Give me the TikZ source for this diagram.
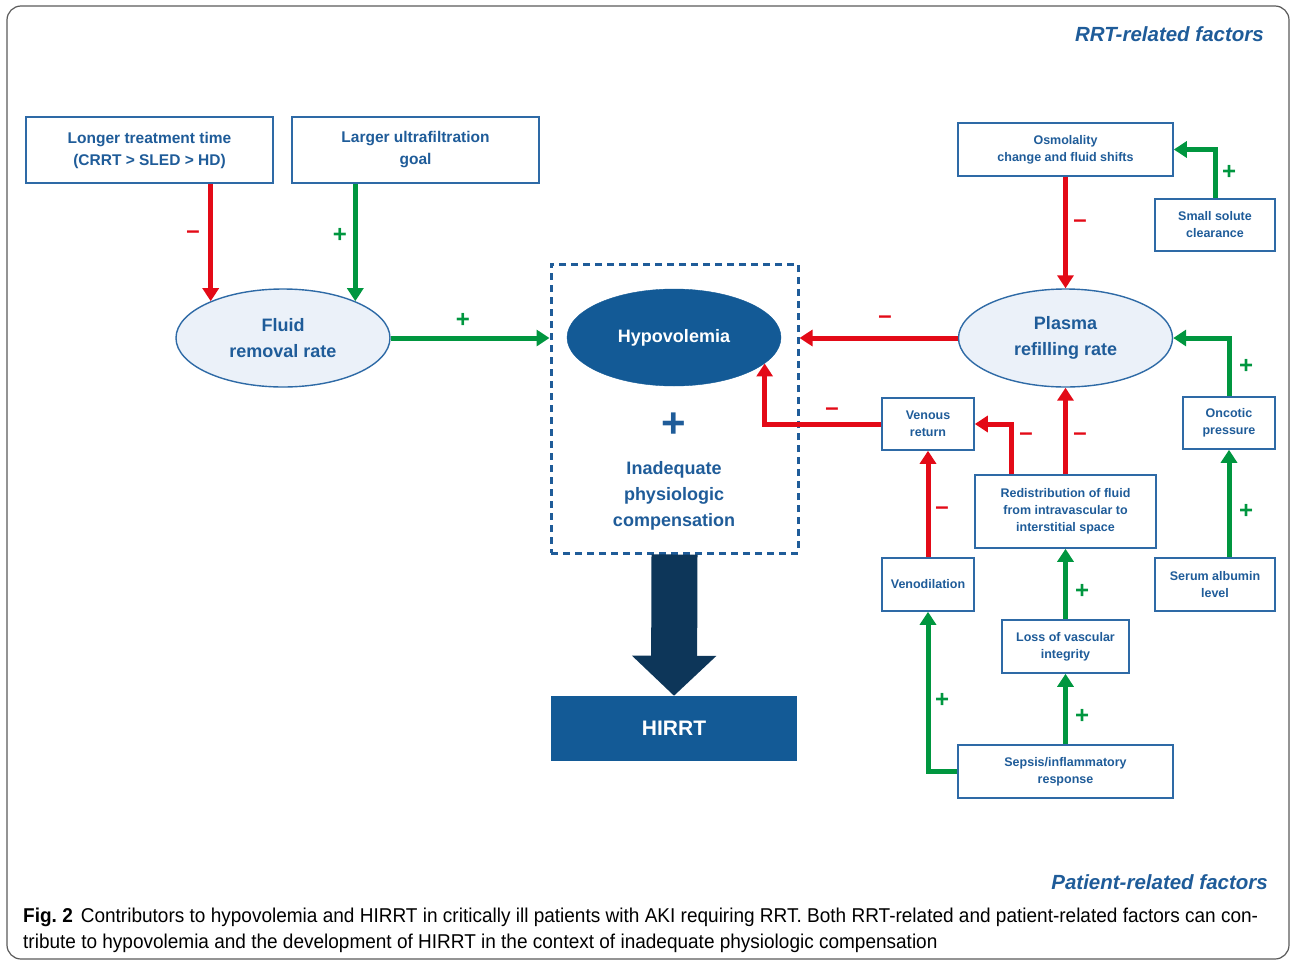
\documentclass[tikz,border=0pt]{standalone}
\usepackage{fontspec}
\setmainfont{Liberation Sans}
\newfontfamily\capfont[FakeStretch=0.95]{Liberation Sans}
\usetikzlibrary{arrows.meta,shapes.geometric,calc}
\definecolor{tblue}{HTML}{1F5C99}
\definecolor{bbox}{HTML}{2E6AA6}
\definecolor{efill}{HTML}{EBF1F9}
\definecolor{hfill}{HTML}{135A96}
\definecolor{navy}{HTML}{0D3659}
\definecolor{cred}{HTML}{E30A17}
\definecolor{cgreen}{HTML}{00963F}
\definecolor{frame}{HTML}{5A5A5A}
\tikzset{
  box/.style={draw=bbox, line width=1.6pt, fill=white, text=tblue, align=center, inner sep=0pt},
  bigtxt/.style={font=\bfseries\fontsize{15.5}{22}\selectfont},
  smalltxt/.style={font=\bfseries\fontsize{12.5}{17}\selectfont},
  ell/.style={ellipse, draw=bbox, fill=efill, line width=1.4pt, inner sep=0pt, text=tblue, align=center,
    minimum width=214pt, minimum height=98pt, font=\bfseries\fontsize{18}{26}\selectfont},
  garrow/.style={draw=cgreen, line width=5pt, -{Triangle[width=16pt,length=13pt]}},
  rarrow/.style={draw=cred, line width=5pt, -{Triangle[width=16pt,length=13pt]}},
  plab/.style={text=cgreen, inner sep=0pt, font=\bfseries\fontsize{24}{24}\selectfont},
  mlab/.style={text=cred, inner sep=0pt, font=\bfseries\fontsize{24}{24}\selectfont},
}
\begin{document}
\begin{tikzpicture}[x=1pt,y=-1pt]
\useasboundingbox (0,0) rectangle (1290,961);
\draw[frame, line width=1.2pt, rounded corners=14pt] (7,6) rectangle (1289,959);

% titles
\node[anchor=base east, inner sep=0pt, text=tblue, font=\bfseries\itshape\fontsize{20.5}{20.5}\selectfont] (ttl1) at (1264,41) {RRT-related factors};
\node[anchor=base east, inner sep=0pt, text=tblue, font=\bfseries\itshape\fontsize{20.5}{20.5}\selectfont] (ttl2) at (1268,889) {Patient-related factors};

% left boxes
\node[box, bigtxt, minimum width=247pt, minimum height=66pt] (longer) at (149.5,150) {Longer treatment time\\(CRRT > SLED > HD)};
\node[box, bigtxt, minimum width=247pt, minimum height=66pt] (larger) at (415.5,150) {Larger ultrafiltration\\goal};
\node[ell] (fluid) at (283,338) {Fluid\\removal rate};

% central compensation box
\node[draw=tblue, dashed, dash pattern=on 7pt off 5pt, line width=3pt, minimum width=247pt, minimum height=289pt, inner sep=0pt] (comp) at (674.5,408.5) {};
\node[ellipse, fill=hfill, draw=hfill, minimum width=214pt, minimum height=97pt, inner sep=0pt, text=white, font=\bfseries\fontsize{18}{18}\selectfont] (hypo) at (674,337.5) {\raisebox{-1.5pt}{Hypovolemia}};
\node[text=tblue, inner sep=0pt, font=\bfseries\fontsize{42}{42}\selectfont] (plus) at (674,425) {+};
\node[text=tblue, inner sep=0pt, align=center, font=\bfseries\fontsize{18}{26}\selectfont] (inad) at (674,496) {Inadequate\\physiologic\\compensation};
\node[fill=hfill, minimum width=246pt, minimum height=65pt, inner sep=0pt, text=white, font=\bfseries\fontsize{21}{21}\selectfont] (hirrt) at (674,728.5) {HIRRT};

% right side
\node[box, smalltxt, minimum width=215pt, minimum height=53pt] (osmo) at (1065.5,149.5) {Osmolality\\change and fluid shifts};
\node[box, smalltxt, minimum width=120pt, minimum height=52pt] (small) at (1215,225) {Small solute\\clearance};
\node[ell] (plasma) at (1065.5,338) {Plasma\\refilling rate};
\node[box, smalltxt, minimum width=92pt, minimum height=52pt] (venous) at (928,424) {Venous\\return};
\node[box, smalltxt, minimum width=92pt, minimum height=52pt] (oncotic) at (1229,423) {Oncotic\\pressure};
\node[box, smalltxt, minimum width=181pt, minimum height=73pt] (redis) at (1065.5,511.5) {Redistribution of fluid\\from intravascular to\\interstitial space};
\node[box, smalltxt, minimum width=92pt, minimum height=53pt] (venod) at (928,584.5) {Venodilation};
\node[box, smalltxt, minimum width=120pt, minimum height=53pt] (serum) at (1215,584.5) {Serum albumin\\level};
\node[box, smalltxt, minimum width=127pt, minimum height=53pt] (loss) at (1065.5,646.5) {Loss of vascular\\integrity};
\node[box, smalltxt, minimum width=215pt, minimum height=53pt] (sepsis) at (1065.5,771.5) {Sepsis/inflammatory\\response};

% big arrow
\draw[navy, line width=46pt, -{Triangle[width=82pt,length=40pt]}] (comp.south) -- (hirrt.north);

% connectors
\draw[rarrow] (fluid.153 |- longer.south) -- (fluid.153);
\draw[garrow] (fluid.27 |- larger.south) -- (fluid.27);
\draw[garrow] (fluid.east) -- (fluid.east -| comp.west);
\draw[rarrow] (plasma.west) -- (plasma.west -| comp.east);
\draw[rarrow] (osmo.south) -- (plasma.north);
\draw[garrow] (small.north) |- (osmo.east);
\draw[garrow] (oncotic.north) |- (plasma.east);
\draw[garrow] (oncotic.south |- serum.north) -- (oncotic.south);
\draw[rarrow] (redis.north) -- (plasma.south);
\coordinate (rleft) at ($(redis.north west)+(37,0)$);
\draw[rarrow] (rleft) |- (venous.east);
\draw[rarrow] (venous.west) -| (hypo.-16);
\draw[rarrow] (venod.north) -- (venous.south);
\draw[garrow] (loss.north) -- (redis.south);
\draw[garrow] (sepsis.north) -- (loss.south);
\draw[garrow] (sepsis.west) -| (venod.south);

% labels
\node[mlab] (m1) at (193,235) {–};
\node[plab] (p1) at (340,235) {+};
\node[plab] (p2) at (463,320) {+};
\node[mlab] (m2) at (885,320) {–};
\node[mlab] (m3) at (1080,224) {–};
\node[plab] (p3) at (1229,172) {+};
\node[plab] (p4) at (1246,366) {+};
\node[plab] (p5) at (1246,511) {+};
\node[mlab] (m4) at (1080,437) {–};
\node[mlab] (m5) at (1026,437) {–};
\node[mlab] (m6) at (832,412) {–};
\node[mlab] (m7) at (942,511) {–};
\node[plab] (p6) at (1082,591) {+};
\node[plab] (p7) at (1082,716) {+};
\node[plab] (p8) at (942,700) {+};

% caption
\node[anchor=base west, inner sep=0pt, font=\capfont\fontsize{20}{20}\selectfont] (cap1) at (23,922) {\makebox[1235pt][s]{\textbf{Fig.~2}\hspace{0.4em}Contributors to hypovolemia and HIRRT in critically ill patients with AKI requiring RRT. Both RRT-related and patient-related factors can con-}};
\node[anchor=base west, inner sep=0pt, font=\capfont\fontsize{20}{20}\selectfont] (cap2) at (23,948) {tribute to hypovolemia and the development of HIRRT in the context of inadequate physiologic compensation};
\end{tikzpicture}
\end{document}
